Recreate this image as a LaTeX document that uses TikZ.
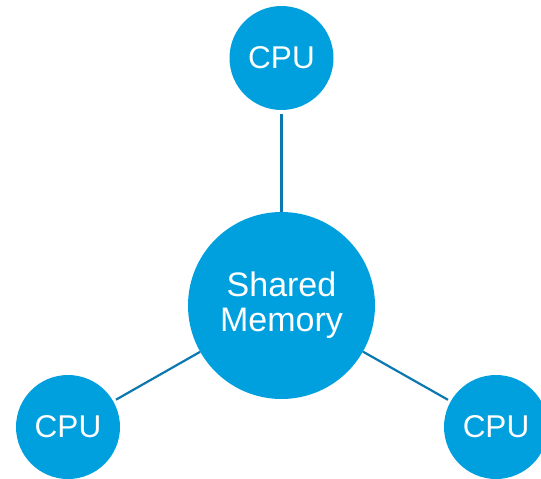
\documentclass[tikz,border=0pt]{standalone}
\usepackage{fontspec}
\setmainfont{Liberation Sans}
\definecolor{nodeblue}{RGB}{0,160,223}
\definecolor{linkblue}{RGB}{12,120,176}
\begin{document}
\begin{tikzpicture}[x=1pt,y=-1pt,
  cpu/.style={circle,fill=nodeblue,draw=none,minimum size=104pt,inner sep=0pt,
    text=white,font=\fontsize{31.5}{34}\selectfont},
  mem/.style={circle,fill=nodeblue,draw=none,minimum size=187pt,inner sep=0pt,
    text=white,align=center,font=\fontsize{34}{35}\selectfont},
  link/.style={draw=linkblue,line width=2.2pt}]
  \useasboundingbox (0,0) rectangle (541,479);
  \node[mem] (memory) at (281.5,305.5) {Shared\\Memory};
  \node[cpu] (cputop) at (281.5,58) {CPU};
  \node[cpu] (cpuleft) at (68,427) {CPU};
  \node[cpu] (cpuright) at (496,427) {CPU};
  \draw[link,shorten <=4pt] (cputop) -- (memory);
  \draw[link,shorten <=3pt] (cpuleft) -- (memory);
  \draw[link,shorten <=3pt] (cpuright) -- (memory);
\end{tikzpicture}
\end{document}
